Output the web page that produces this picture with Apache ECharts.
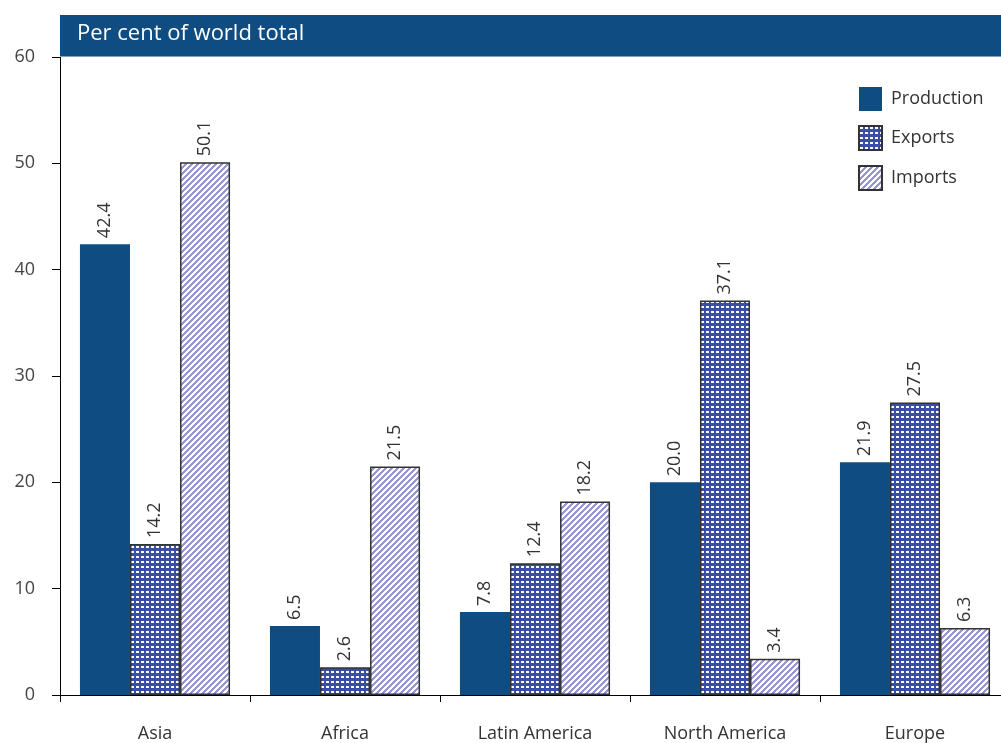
<!DOCTYPE html>
<html><head><meta charset="utf-8">
<script src="https://cdn.jsdelivr.net/npm/echarts@6/dist/echarts.min.js"></script>
<style>html,body{margin:0;padding:0;background:#fff;overflow:hidden}#c{width:1010px;height:743px}</style>
</head><body><div id="c"></div>
<script>
const categories = ['Asia', 'Africa', 'Latin America', 'North America', 'Europe'];
const production = [42.4, 6.5, 7.8, 20.0, 21.9];
const exportsData = [14.2, 2.6, 12.4, 37.1, 27.5];
const imports = [50.1, 21.5, 18.2, 3.4, 6.3];
const seriesNames = ['Production', 'Exports', 'Imports'];
const bannerText = 'Per cent of world total';

function dotPattern() {
  const c = document.createElement('canvas');
  c.width = 5; c.height = 5;
  const g = c.getContext('2d');
  g.fillStyle = '#3a4ea6'; g.fillRect(0, 0, 5, 5);
  g.fillStyle = '#ffffff'; g.fillRect(1, 1, 3, 2);
  return c;
}
function stripePattern() {
  const c = document.createElement('canvas');
  const s = 6;
  c.width = s; c.height = s;
  const g = c.getContext('2d');
  g.fillStyle = '#ffffff'; g.fillRect(0, 0, s, s);
  g.fillStyle = '#9696d0';
  for (let y = 0; y < s; y++) {
    for (let x = 0; x < s; x++) {
      if ((x + y) % s < 3) g.fillRect(x, y, 1, 1);
    }
  }
  return c;
}

const chart = echarts.init(document.getElementById('c'));
const font = '"Open Sans", "Noto Sans", sans-serif';
const lbl = {
  show: true, position: 'top', rotate: 90, align: 'left', verticalAlign: 'middle',
  distance: 6, color: '#333', fontSize: 18, fontFamily: font,
  formatter: p => p.value.toFixed(1)
};
chart.setOption({
  animation: false,
  textStyle: { fontFamily: font },
  grid: { left: 60, right: 0, top: 57, bottom: 47, containLabel: false },
  legend: {
    orient: 'vertical', left: 853, top: 82, itemWidth: 23, itemHeight: 24, itemGap: 14,
    icon: 'rect',
    textStyle: { fontSize: 18, color: '#333', fontFamily: font, padding: [0, 0, 0, 4] },
    data: seriesNames
  },
  xAxis: {
    type: 'category', data: categories,
    axisLine: { lineStyle: { color: '#000', width: 1 } },
    axisTick: { show: true, length: 7, lineStyle: { color: '#000' } },
    axisLabel: { margin: 30, fontSize: 18, color: '#333', fontFamily: font }
  },
  yAxis: {
    type: 'value', min: 0, max: 60, interval: 10,
    axisLine: { show: true, lineStyle: { color: '#000', width: 1 } },
    axisTick: { show: true, length: 8, lineStyle: { color: '#000' } },
    splitLine: { show: false },
    axisLabel: { margin: 25, fontSize: 18, color: '#444', fontFamily: font }
  },
  graphic: [
    { type: 'rect', left: 60, top: 15, shape: { width: 950, height: 41 }, style: { fill: '#0f4c81' }, z: 10 },
    { type: 'rect', left: 60, top: 56, shape: { width: 950, height: 1 }, style: { fill: '#7fa0c0' }, z: 10 },
    { type: 'text', left: 77, top: 23, style: { text: bannerText, fill: '#fff', fontSize: 22, fontFamily: font }, z: 11 }
  ],
  series: [
    { name: seriesNames[0], type: 'bar', data: production, barGap: '0%', barCategoryGap: '21%',
      itemStyle: { color: '#0f4c81' }, label: lbl },
    { name: seriesNames[1], type: 'bar', data: exportsData,
      itemStyle: { color: { image: dotPattern(), repeat: 'repeat' }, borderColor: '#333', borderWidth: 1.5 }, label: lbl },
    { name: seriesNames[2], type: 'bar', data: imports,
      itemStyle: { color: { image: stripePattern(), repeat: 'repeat' }, borderColor: '#333', borderWidth: 1.5 }, label: lbl }
  ]
});
</script></body></html>
